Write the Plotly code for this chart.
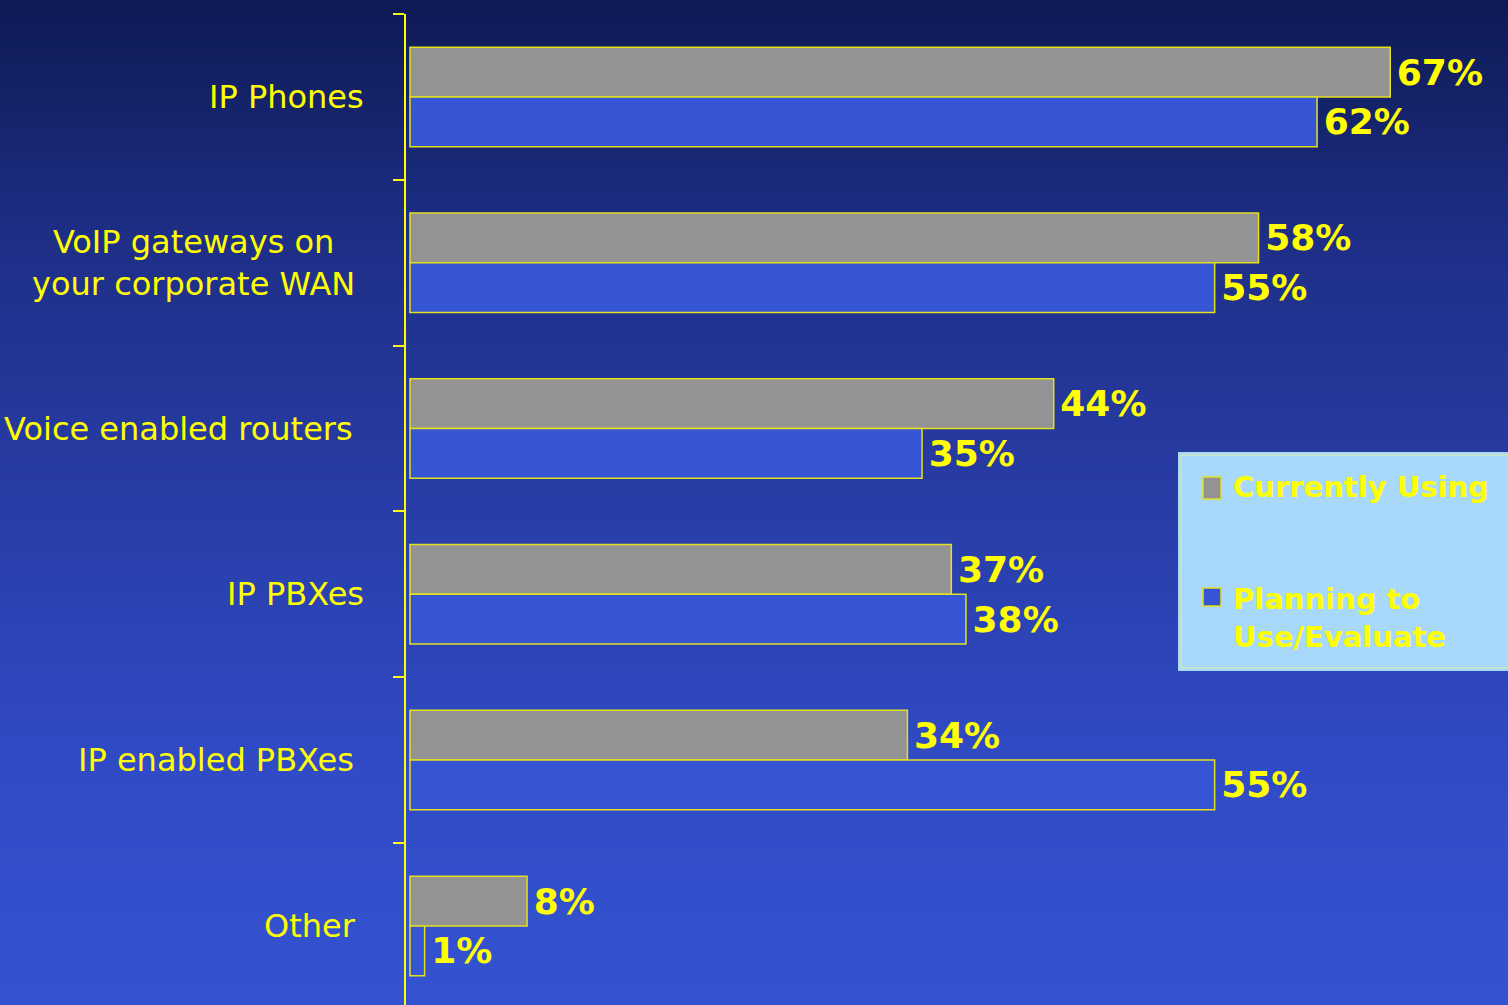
import plotly.graph_objects as go

# ---- data ----
categories = ["IP Phones", "VoIP gateways on your corporate WAN", "Voice enabled routers",
              "IP PBXes", "IP enabled PBXes", "Other"]
category_labels = ["IP Phones", "VoIP gateways on<br>your corporate WAN", "Voice enabled routers",
                   "IP PBXes", "IP enabled PBXes", "Other"]
currently_using = [67, 58, 44, 37, 34, 8]
planning_to_use = [62, 55, 35, 38, 55, 1]
series_names = ["Currently Using", "Planning to<br>Use/Evaluate"]

# ---- style ----
W, H = 1508, 1005
L, T = 406, 14
PW, PH = W - L, H - T
YELLOW = "#ffff00"
GRAY = "#939393"
BLUE = "#3555d5"
OUTLINE = "#e4e01c"
label_shift = [-40, -49, -51, -40, -50, -48]


def px_x(px):
    return (px - L) / PW


def px_y(py):
    return 1 - (py - T) / PH


fig = go.Figure()
for vals, color, name in [(currently_using, GRAY, series_names[0]),
                          (planning_to_use, BLUE, series_names[1])]:
    fig.add_trace(go.Bar(
        y=categories, x=vals, orientation="h", name=name,
        marker=dict(color=color, line=dict(color=OUTLINE, width=1.5)),
        texttemplate="\u200a%{x}%", textposition="outside",
        textfont=dict(family="DejaVu Sans", size=36, color=YELLOW, weight="bold"),
        constraintext="none", cliponaxis=False, showlegend=False,
        hoverinfo="skip",
    ))

# gradient background
stops = [(0, (14, 26, 84)), (250, (31, 47, 136)), (750, (48, 74, 196)), (1005, (52, 83, 209))]


def color_at(py):
    for (y0, c0), (y1, c1) in zip(stops[:-1], stops[1:]):
        if y0 <= py <= y1:
            f = (py - y0) / (y1 - y0)
            return "rgb(%d,%d,%d)" % tuple(round(a + (b - a) * f) for a, b in zip(c0, c1))
    return "rgb(%d,%d,%d)" % stops[-1][1]


shapes = []
step = 5
for py in range(0, H, step):
    shapes.append(dict(type="rect", xref="paper", yref="paper", layer="below",
                       x0=px_x(-2), x1=px_x(W + 2), y0=px_y(py + step + 1), y1=px_y(py),
                       fillcolor=color_at(py + step / 2), line=dict(width=0)))

# legend box
shapes.append(dict(type="rect", xref="paper", yref="paper", layer="above",
                   x0=px_x(1178), x1=px_x(W + 5), y0=px_y(671), y1=px_y(452),
                   fillcolor="#a8d8fa", line=dict(width=0)))
shapes.append(dict(type="rect", xref="paper", yref="paper", layer="above",
                   x0=px_x(1181), x1=px_x(W + 5), y0=px_y(668), y1=px_y(455),
                   fillcolor="rgba(0,0,0,0)", line=dict(color="#dcee9e", width=1)))
for (y0, y1), color in [((477, 499), GRAY), ((588, 606), BLUE)]:
    shapes.append(dict(type="rect", xref="paper", yref="paper", layer="above",
                       x0=px_x(1203), x1=px_x(1221), y0=px_y(y1), y1=px_y(y0),
                       fillcolor=color, line=dict(color=OUTLINE, width=1.5)))

annotations = []
for cat, lab, sh in zip(categories, category_labels, label_shift):
    annotations.append(dict(xref="paper", yref="y", x=0, y=cat, text=lab,
                            xanchor="right", yanchor="middle", xshift=sh, align="center",
                            showarrow=False,
                            font=dict(family="DejaVu Sans", size=32, color=YELLOW)))
for text, cy in [(series_names[0], 487), (series_names[1], 618)]:
    annotations.append(dict(xref="paper", yref="paper", x=px_x(1231), y=px_y(cy), text=text,
                            xanchor="left", yanchor="middle", align="left", showarrow=False,
                            font=dict(family="DejaVu Sans", size=29, color=YELLOW, weight="bold")))

fig.update_layout(
    width=W, height=H, autosize=False,
    margin=dict(l=L, r=0, t=T, b=0, pad=0),
    paper_bgcolor="rgb(14,26,84)", plot_bgcolor="rgba(0,0,0,0)",
    barmode="group", bargap=0.40, bargroupgap=0,
    shapes=shapes, annotations=annotations, showlegend=False,
    xaxis=dict(range=[-0.273, 75.05], showgrid=False, zeroline=False,
               showticklabels=False, showline=False, ticks="", fixedrange=True),
    yaxis=dict(type="category", categoryorder="array", categoryarray=categories,
               range=[5.477, -0.5], showticklabels=False, showgrid=False, zeroline=False,
               ticks="outside", tickson="boundaries", ticklen=11, tickwidth=1.5,
               tickcolor=YELLOW, showline=True, linecolor=YELLOW, linewidth=1.5,
               fixedrange=True),
)

fig.write_html("out.html", config={"displayModeBar": False})
